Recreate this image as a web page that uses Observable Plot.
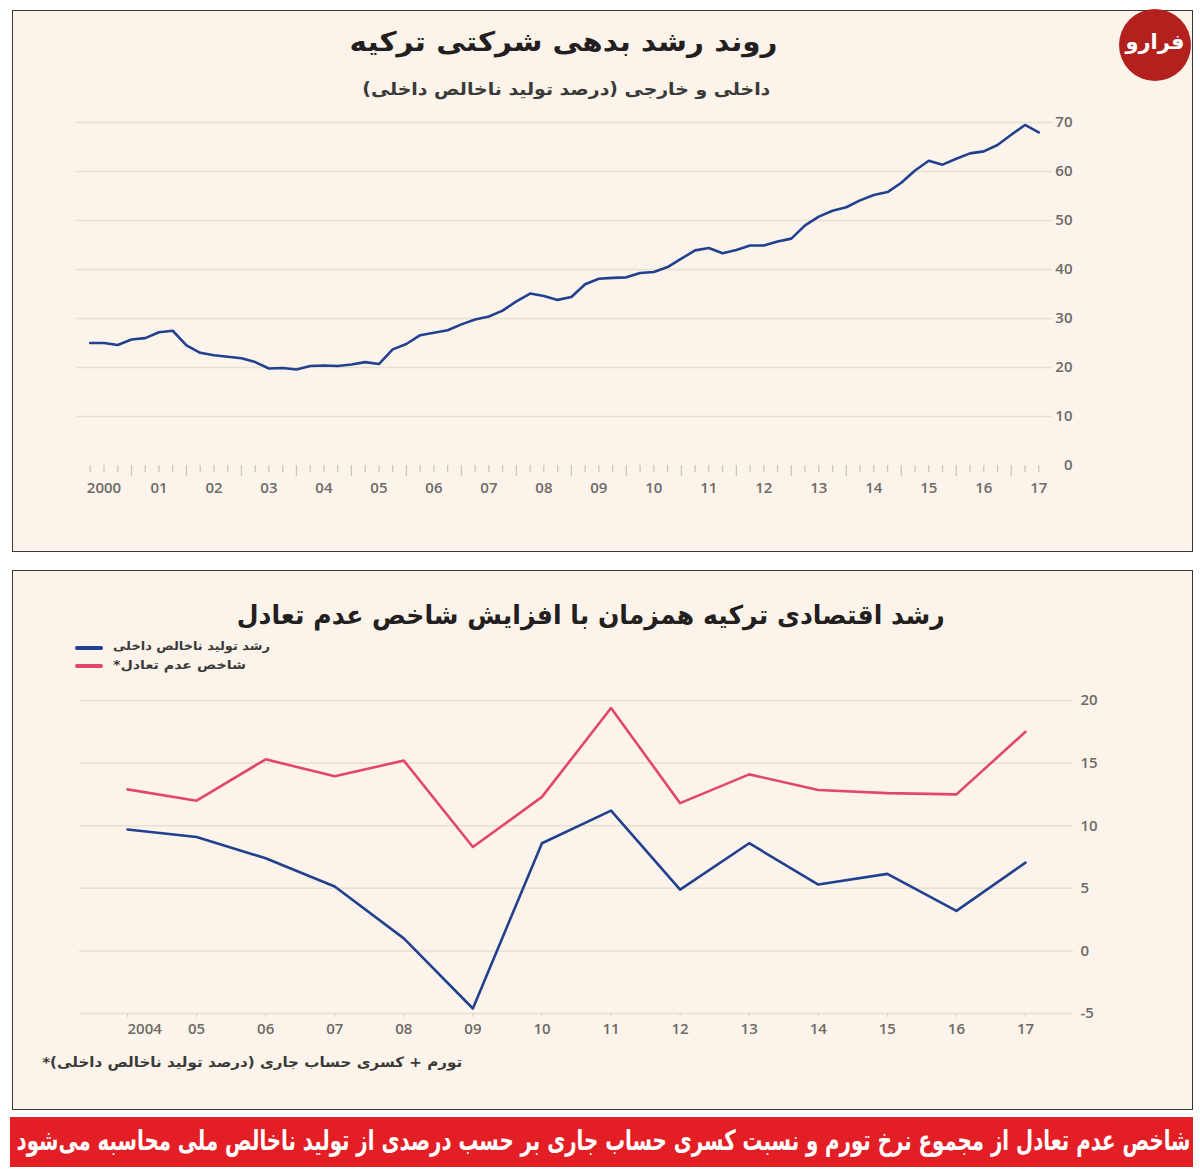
<!DOCTYPE html>
<html><head><meta charset="utf-8">
<script src="https://cdn.jsdelivr.net/npm/d3@7"></script>
<script src="https://cdn.jsdelivr.net/npm/@observablehq/plot@0.6"></script>
<style>
body{margin:0;width:1200px;height:1176px;background:#fff;position:relative;overflow:hidden;font-family:"DejaVu Sans",sans-serif;}
.box{position:absolute;left:12px;width:1181px;border:1px solid #3a3a3a;background:#fcf4ea;box-sizing:border-box;}
#box1{top:10px;height:542px;}
#box2{top:570px;height:540px;}
.plot{position:absolute;left:0;}
#p1{top:0}
#p2{top:570px}
.t{position:absolute;direction:rtl;white-space:nowrap;font-weight:bold;line-height:1;}
.sw{position:absolute;height:4px;border-radius:2px;}
</style></head>
<body>
<div class="box" id="box1"></div>
<div class="box" id="box2"></div>
<div class="plot" id="p1"></div>
<div class="plot" id="p2"></div>

<div class="t fit" data-anchor="right" data-w="428" style="right:422px;top:28px;font-size:27px;color:#231f20;">روند رشد بدهی شرکتی ترکیه</div>
<div class="t fit" data-anchor="right" data-w="408" style="right:430px;top:81px;font-size:17px;color:#3a3a3a;">داخلی و خارجی (درصد تولید ناخالص داخلی)</div>

<div class="t fit" data-anchor="right" data-w="708" style="right:255px;top:602px;font-size:26px;color:#231f20;">رشد اقتصادی ترکیه همزمان با افزایش شاخص عدم تعادل</div>
<div class="sw" style="left:75px;width:28px;top:646px;background:#21408f;"></div>
<div class="sw" style="left:75px;width:28px;top:664px;background:#e2466f;"></div>
<div class="t fit" data-anchor="left" data-w="157" style="left:113px;top:640px;font-size:12px;color:#3a3a3a;">رشد تولید ناخالص داخلی</div>
<div class="t fit" data-anchor="left" data-w="133" style="left:113px;top:659px;font-size:12px;color:#3a3a3a;">شاخص عدم تعادل*</div>

<div class="t fit" data-anchor="right" data-w="420" style="right:738px;top:1055px;font-size:14px;color:#3a3a3a;">تورم + کسری حساب جاری (درصد تولید ناخالص داخلی)*</div>

<div id="banner" style="position:absolute;left:10px;top:1117px;width:1183px;height:50px;background:#e41e25;"></div>
<div class="t fit" data-anchor="right" data-w="1174" style="right:10px;top:1127px;font-size:28px;color:#fff;">شاخص عدم تعادل از مجموع نرخ تورم و نسبت کسری حساب جاری بر حسب درصدی از تولید ناخالص ملی محاسبه می‌شود</div>

<div id="logo" style="position:absolute;left:1119px;top:9px;width:72px;height:72px;border-radius:50%;background:#b3211f;"></div>
<div class="t" style="left:1125px;top:32px;font-size:21px;color:#fff;width:60px;text-align:center;">فرارو</div>

<script>
// ---- Chart 1: Turkish corporate debt (% of GDP), quarterly from 2000Q1
const debtFirstYear = 2000;
const debtValues = [
  25.0, 25.0, 24.6, 25.7, 26.0, 27.2, 27.5, 24.5, 23.0, 22.5,
  22.2, 21.9, 21.1, 19.8, 19.9, 19.6, 20.3, 20.4, 20.3, 20.6,
  21.1, 20.7, 23.7, 24.8, 26.6, 27.1, 27.6, 28.8, 29.8, 30.4,
  31.6, 33.5, 35.1, 34.6, 33.8, 34.4, 37.0, 38.1, 38.3, 38.4,
  39.3, 39.5, 40.5, 42.2, 43.9, 44.4, 43.3, 44.0, 44.9, 44.9,
  45.7, 46.3, 49.0, 50.8, 52.0, 52.7, 54.1, 55.2, 55.8, 57.7,
  60.2, 62.2, 61.4, 62.6, 63.7, 64.1, 65.4, 67.5, 69.5, 68.0
];
const debtYTicks = [0, 10, 20, 30, 40, 50, 60, 70];
const debtYearLabels = ["2000","01","02","03","04","05","06","07","08","09","10","11","12","13","14","15","16","17"];

// ---- Chart 2: GDP growth vs imbalance index
const years = [2004, 2005, 2006, 2007, 2008, 2009, 2010, 2011, 2012, 2013, 2014, 2015, 2016, 2017];
const yearLabels2 = ["2004","05","06","07","08","09","10","11","12","13","14","15","16","17"];
const gdpGrowth = [9.7, 9.1, 7.4, 5.15, 1.0, -4.6, 8.6, 11.2, 4.9, 8.6, 5.3, 6.15, 3.2, 7.05];
const imbalance = [12.9, 12.0, 15.3, 13.95, 15.2, 8.3, 12.3, 19.4, 11.8, 14.1, 12.85, 12.6, 12.5, 17.5];
const y2Ticks = [-5, 0, 5, 10, 15, 20];

const tickColor = "#6d6a67";
const gridColor = "#e7dfd4";
const numFont = "'Open Sans', 'DejaVu Sans', sans-serif";

// derived tables
const debtData = debtValues.map((v, i) => ({t: debtFirstYear + 0.25 * (i + 1), v}));
const quarterTicks = debtData.map(d => d.t).filter(t => t % 1 !== 0);
const yearBounds = debtData.map(d => d.t).filter(t => t % 1 === 0);
const yearMids = debtYearLabels.map((_, i) => debtFirstYear + i + 0.5);

const p1 = Plot.plot({
  width: 1200, height: 555,
  marginLeft: 76, marginRight: 148, marginTop: 122, marginBottom: 90,
  style: {background: "transparent", overflow: "visible"},
  x: {domain: [2000, 2017.75], label: null},
  y: {domain: [0, 70], label: null},
  marks: [
    Plot.gridY(debtYTicks.filter(d => d > 0), {stroke: gridColor, strokeOpacity: 1, strokeWidth: 1.5}),
    Plot.axisX(quarterTicks, {tickSize: 7, stroke: "#cfc6bb", strokeWidth: 1.3, fill: "none", label: null}),
    Plot.axisX(yearBounds, {tickSize: 11, stroke: "#cfc6bb", strokeWidth: 1.3, fill: "none", label: null}),
    Plot.axisX(yearMids, {tickSize: 0, tickPadding: 17, fill: tickColor, fontSize: 15, fontWeight: 600, fontFamily: numFont, label: null,
      tickFormat: d => debtYearLabels[yearMids.indexOf(d)]}),
    Plot.axisY(debtYTicks, {anchor: "right", tickSize: 0, tickPadding: 20, textAnchor: "end", fill: tickColor, fontSize: 15, fontWeight: 600, fontFamily: numFont, label: null, tickFormat: d => String(d)}),
    Plot.line(debtData, {x: "t", y: "v", stroke: "#21408f", strokeWidth: 2.6})
  ]
});
document.getElementById("p1").appendChild(p1);

const growthData = years.map((y, i) => ({year: y, v: gdpGrowth[i]}));
const imbData = years.map((y, i) => ({year: y, v: imbalance[i]}));

const p2 = Plot.plot({
  width: 1200, height: 540,
  marginLeft: 79, marginRight: 127, marginTop: 130, marginBottom: 97,
  style: {background: "transparent", overflow: "visible"},
  x: {domain: [2003.305, 2017.695], label: null},
  y: {domain: [-5, 20], label: null},
  marks: [
    Plot.gridY(y2Ticks, {stroke: gridColor, strokeOpacity: 1, strokeWidth: 1.5}),
    Plot.axisX(years, {tickSize: 4, stroke: "#d8cfc4", fill: "none", label: null}),
    Plot.axisX(years.slice(1), {tickSize: 0, tickPadding: 10, fill: tickColor, fontSize: 15, fontWeight: 600, fontFamily: numFont, label: null,
      tickFormat: d => yearLabels2[years.indexOf(d)]}),
    Plot.axisX(years.slice(0, 1), {tickSize: 0, tickPadding: 10, textAnchor: "start", fill: tickColor, fontSize: 15, fontWeight: 600, fontFamily: numFont, label: null,
      tickFormat: d => yearLabels2[years.indexOf(d)]}),
    Plot.axisY(y2Ticks, {anchor: "right", tickSize: 0, tickPadding: 7, textAnchor: "start", fill: tickColor, fontSize: 15, fontWeight: 600, fontFamily: numFont, label: null, tickFormat: d => String(d)}),
    Plot.line(imbData, {x: "year", y: "v", stroke: "#e2466f", strokeWidth: 2.6}),
    Plot.line(growthData, {x: "year", y: "v", stroke: "#21408f", strokeWidth: 2.6})
  ]
});
document.getElementById("p2").appendChild(p2);

// fit Persian texts horizontally to the reference widths
document.querySelectorAll(".fit").forEach(el => {
  const w = el.getBoundingClientRect().width;
  const target = +el.dataset.w;
  el.style.transformOrigin = el.dataset.anchor === "left" ? "left center" : "right center";
  el.style.transform = `scaleX(${target / w})`;
});
</script>
</body></html>
